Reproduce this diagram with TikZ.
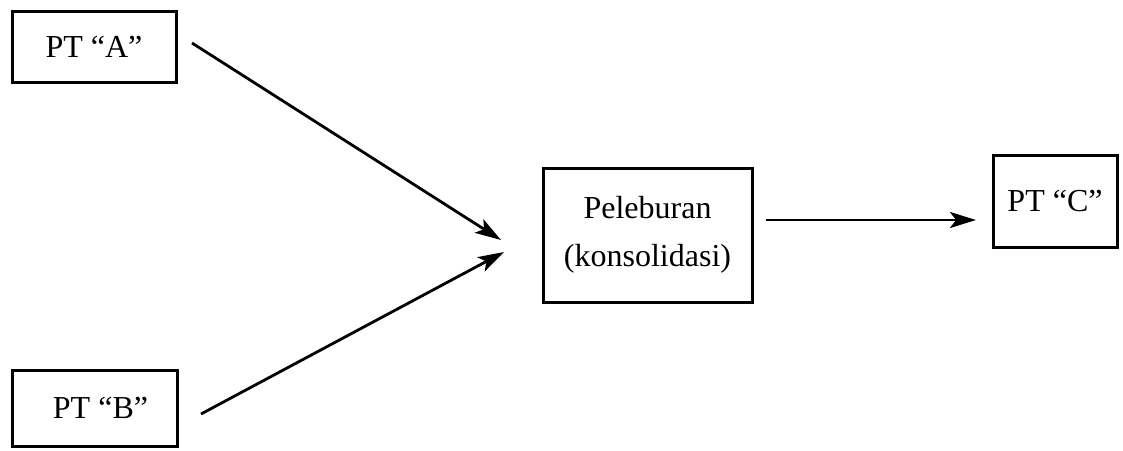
\documentclass[tikz,border=0pt]{standalone}
\usepackage{fontspec}
\setmainfont{Liberation Serif}
\usetikzlibrary{arrows.meta}
\begin{document}
\begin{tikzpicture}[x=1pt,y=-1pt,
  box/.style={draw=black, line width=3pt, inner sep=0pt, align=center, font=\fontsize{32}{48}\selectfont},
  conn/.style={draw=black, line width=2.8pt, -{Stealth[length=26pt,width=16pt,inset=6pt]}}]
\useasboundingbox (0,0) rectangle (1123,450);
\node[box, minimum width=164pt, minimum height=71pt] (A) at (94,46.5) {PT “A”};
\node[box, minimum width=165pt, minimum height=76pt] (B) at (94.5,408) {\hspace{12pt}PT “B”};
\node[box, minimum width=209pt, minimum height=134pt] (P) at (647.5,235) {Peleburan\\(konsolidasi)};
\node[box, minimum width=124pt, minimum height=92pt] (C) at (1055,201) {PT “C”};
\coordinate (aS) at (192,43);
\coordinate (aE) at (501,240);
\coordinate (bS) at (201,414);
\coordinate (bE) at (504,252);
\coordinate (cS) at (766,220);
\coordinate (cE) at (976,220);
\draw[conn] (aS) -- (aE);
\draw[conn] (bS) -- (bE);
\draw[conn] (cS) -- (cE);
\end{tikzpicture}
\end{document}
